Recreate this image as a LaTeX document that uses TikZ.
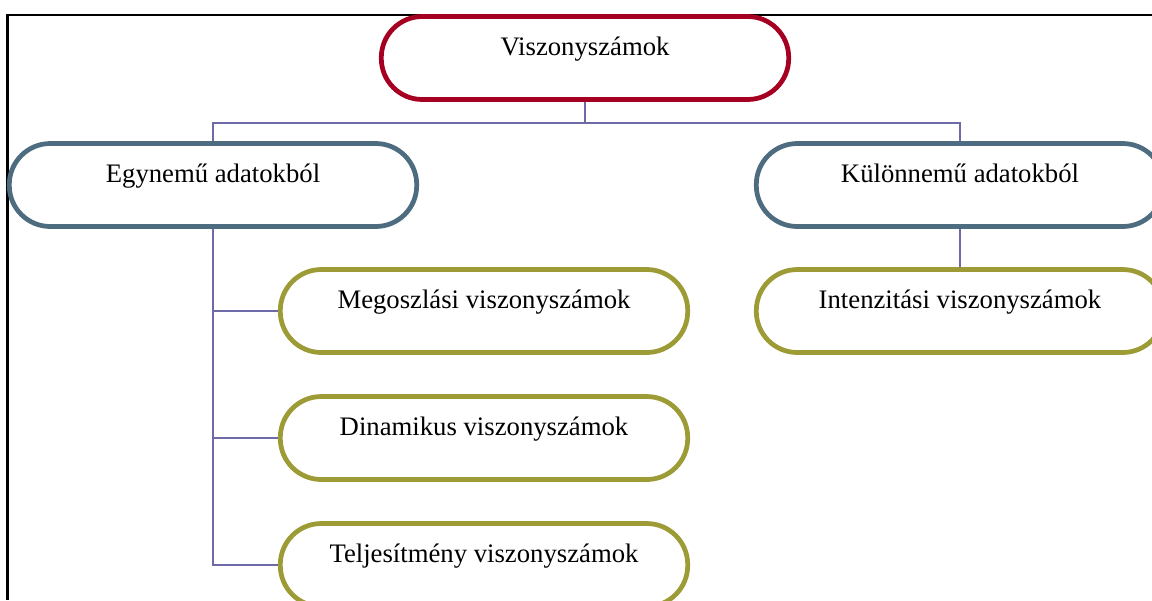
\documentclass[tikz,border=0pt]{standalone}
\usepackage{fontspec}
\setmainfont{Liberation Serif}
\usepackage{tikz}
\usetikzlibrary{positioning, calc}
\definecolor{rootRed}{HTML}{A50021}
\definecolor{groupBlue}{HTML}{4E6C80}
\definecolor{leafOlive}{HTML}{9C9B35}
\definecolor{linkPurple}{HTML}{6E6AA8}
\tikzstyle{pill} = [rectangle, rounded corners=0.82cm, draw, fill=white, line width=2.7pt, minimum width=8.15cm, minimum height=1.66cm, inner ysep=0pt, text height=10pt, text depth=12.8pt, font=\fontsize{15.2}{18}\selectfont]
\tikzstyle{root} = [pill, draw=rootRed]
\tikzstyle{group} = [pill, draw=groupBlue]
\tikzstyle{leaf} = [pill, draw=leafOlive]
\tikzstyle{link} = [draw=linkPurple, line width=0.9pt]

\begin{document}
\begin{tikzpicture}[x=0.02cm, y=-0.02cm]
    \clip (0,0) rectangle (1152,600);
    % Frame
    \draw[line width=1.2pt] (7.5,600) -- (7.5,15) -- (1160,15);

    % Root
    \node[root] (root) at (585,58) {Viszonyszámok};

    % Groups
    \node[group] (egynemu) at (213,185) {Egynemű adatokból};
    \node[group] (kulonnemu) at (960,185) {Különnemű adatokból};

    % Leaves
    \node[leaf] (megoszlasi) at (484,311) {Megoszlási viszonyszámok};
    \node[leaf] (dinamikus) at (484,438) {Dinamikus viszonyszámok};
    \node[leaf] (teljesitmeny) at (484,565) {Teljesítmény viszonyszámok};
    \node[leaf] (intenzitasi) at (960,311) {Intenzitási viszonyszámok};

    % Links
    \draw[link] (root.south) -- ++(0,21) -| (egynemu.north);
    \draw[link] (root.south) -- ++(0,21) -| (kulonnemu.north);
    \draw[link] (egynemu.south) |- (megoszlasi.west);
    \draw[link] (egynemu.south) |- (dinamikus.west);
    \draw[link] (egynemu.south) |- (teljesitmeny.west);
    \draw[link] (kulonnemu.south) -- (intenzitasi.north);
\end{tikzpicture}
\end{document}
